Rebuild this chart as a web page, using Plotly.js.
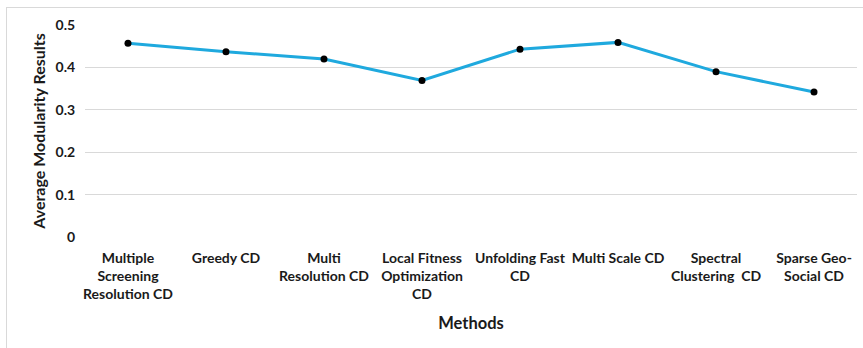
<!DOCTYPE html>
<html>
<head>
<meta charset="utf-8">
<script src="https://cdn.plot.ly/plotly-3.0.1.min.js"></script>
<style>
  html, body { margin: 0; padding: 0; background: #fff; overflow: hidden; }
  #wrap { position: relative; width: 863px; height: 348px; }
  #chart { position: absolute; left: 0; top: 0; width: 863px; height: 348px; }
  #frame { position: absolute; left: 6px; top: 7px; width: 870px; height: 360px;
           border: 1px solid #d9d9d9; pointer-events: none; box-sizing: border-box; }
</style>
</head>
<body>
<div id="wrap">
  <div id="chart"></div>
  <div id="frame"></div>
</div>
<script>
const categories = [
  "Multiple Screening Resolution CD",
  "Greedy CD",
  "Multi Resolution CD",
  "Local Fitness Optimization CD",
  "Unfolding Fast CD",
  "Multi Scale CD",
  "Spectral Clustering CD",
  "Sparse Geo-Social CD"
];
const tickLabels = [
  "Multiple<br>Screening<br>Resolution CD",
  "Greedy CD",
  "Multi<br>Resolution CD",
  "Local Fitness<br>Optimization<br>CD",
  "Unfolding Fast<br>CD",
  "Multi Scale CD",
  "Spectral<br>Clustering  CD",
  "Sparse Geo-<br>Social CD"
];
const modularity = [0.457, 0.437, 0.420, 0.369, 0.443, 0.459, 0.390, 0.342];
const yTicks = [0, 0.1, 0.2, 0.3, 0.4, 0.5];
const yTickText = ["0", "0.1", "0.2", "0.3", "0.4", "0.5"];

const FONT = "Lato, 'Open Sans', sans-serif";

const trace = {
  type: "scatter",
  mode: "lines+markers",
  x: categories,
  y: modularity,
  line: { color: "#1fa9de", width: 3 },
  marker: { color: "#000000", size: 7 },
  hoverinfo: "x+y"
};

const layout = {
  width: 863,
  height: 348,
  margin: { l: 85, r: 6, t: 25, b: 111 },
  paper_bgcolor: "#ffffff",
  plot_bgcolor: "#ffffff",
  showlegend: false,
  font: { family: FONT, size: 14, color: "#1a1a1a", weight: "bold" },
  xaxis: {
    type: "category",
    tickvals: categories,
    ticktext: tickLabels,
    tickangle: 0,
    showgrid: false,
    zeroline: false,
    showline: false,
    ticks: "outside",
    ticklen: 8,
    tickcolor: "rgba(0,0,0,0)",
    tickfont: { family: FONT, size: 14, color: "#1a1a1a", weight: "bold" },
    title: { text: "Methods", font: { family: FONT, size: 16.5, color: "#1a1a1a", weight: "bold" }, standoff: 16 },
    automargin: false,
    fixedrange: true
  },
  yaxis: {
    range: [0, 0.5],
    tickvals: yTicks,
    ticktext: yTickText,
    showgrid: true,
    gridcolor: "#d9d9d9",
    gridwidth: 1,
    zeroline: false,
    showline: false,
    ticks: "outside",
    ticklen: 6,
    tickcolor: "rgba(0,0,0,0)",
    tickfont: { family: FONT, size: 14, color: "#1a1a1a", weight: "bold" },
    title: { text: "Average Modularity Results", font: { family: FONT, size: 16, color: "#1a1a1a", weight: "bold" }, standoff: 6 },
    automargin: false,
    fixedrange: true
  }
};

Plotly.newPlot("chart", [trace], layout, { displayModeBar: false, staticPlot: true });
</script>
</body>
</html>
